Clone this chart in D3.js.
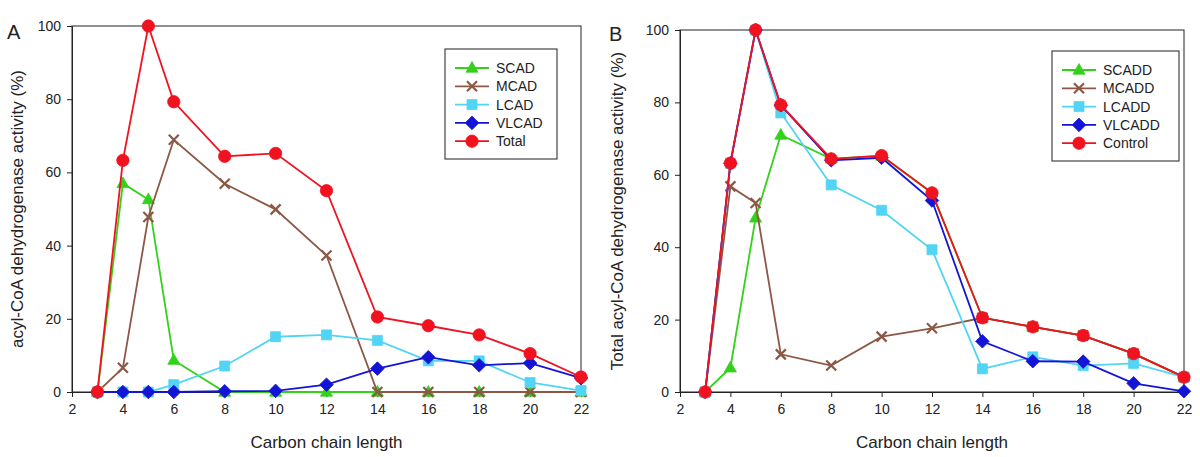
<!DOCTYPE html>
<html><head><meta charset="utf-8">
<script src="https://cdn.jsdelivr.net/npm/d3@7"></script>
<style>
html,body{margin:0;padding:0;background:#fff;}
svg{display:block;font-family:Arial,"Liberation Sans",sans-serif;}
</style></head>
<body>
<svg id="chart" width="1200" height="457"></svg>
<script>
// ---------------- data ----------------
const chainLength = [3, 4, 5, 6, 8, 10, 12, 14, 16, 18, 20, 22];
const xTicks = [2, 4, 6, 8, 10, 12, 14, 16, 18, 20, 22];
const yTicks = [0, 20, 40, 60, 80, 100];

// Panel A
const seriesNamesA = ["SCAD", "MCAD", "LCAD", "VLCAD", "Total"];
const scadA  = [0, 57.0, 52.6, 8.7, 0, 0, 0, 0, 0, 0, 0, 0];
const mcadA  = [0, 6.6, 47.8, 68.9, 56.9, 49.9, 37.3, 0, 0, 0, 0, 0];
const lcadA  = [0, 0, 0, 2.0, 7.1, 15.1, 15.6, 14.1, 8.5, 8.5, 2.6, 0.4];
const vlcadA = [0, 0, 0, 0, 0.2, 0.3, 2.0, 6.4, 9.5, 7.3, 7.9, 3.8];
const totalA = [0, 63.3, 100, 79.3, 64.4, 65.2, 55.0, 20.5, 18.1, 15.6, 10.5, 4.1];

// Panel B
const seriesNamesB = ["SCADD", "MCADD", "LCADD", "VLCADD", "Control"];
const scaddB   = [0, 6.7, 48.1, 71.0, 64.4, 65.2, 55.0, 20.5, 18.0, 15.6, 10.6, 4.1];
const mcaddB   = [0, 56.8, 52.2, 10.4, 7.3, 15.3, 17.6, 20.5, 18.0, 15.6, 10.6, 4.1];
const lcaddB   = [0, 63.2, 100, 77.1, 57.2, 50.2, 39.3, 6.4, 9.7, 7.3, 7.9, 4.1];
const vlcaddB  = [0, 63.2, 100, 79.2, 64.0, 64.7, 52.9, 14.0, 8.5, 8.4, 2.4, 0.2];
const controlB = [0, 63.2, 100, 79.3, 64.4, 65.3, 55.0, 20.5, 18.0, 15.6, 10.6, 4.1];

const panelLetters = ["A", "B"];
const yTitles = ["acyl-CoA dehydrogenase activity (%)", "Total acyl-CoA dehydrogenase activity (%)"];
const xTitle = "Carbon chain length";

// ---------------- styles ----------------
const colors = ["#33d11c", "#8c5845", "#52d4f4", "#1414d6", "#f0121e"];
const markers = ["triangle", "x", "square", "diamond", "circle"];

function markerPath(type) {
  switch (type) {
    case "triangle": return "M0,-6.5L6,4.2L-6,4.2Z";
    case "square": return "M-5,-5H5V5H-5Z";
    case "diamond": return "M0,-6.8L6.8,0L0,6.8L-6.8,0Z";
    case "circle": return d3.symbol(d3.symbolCircle, 120)();
    case "x": return "M-5,-5L5,5M-5,5L5,-5";
  }
}

const svg = d3.select("#chart");

function drawPanel(cfg) {
  const g = svg.append("g");
  const x = d3.scaleLinear().domain([2, 22]).range([cfg.left, cfg.right]);
  const y = d3.scaleLinear().domain([0, 100]).range([cfg.bottom, cfg.top]);

  // frame
  g.append("rect").attr("x", cfg.left).attr("y", cfg.top)
    .attr("width", cfg.right - cfg.left).attr("height", cfg.bottom - cfg.top)
    .attr("fill", "none").attr("stroke", "#222").attr("stroke-width", 1);

  const xAxis = g.append("g").attr("transform", `translate(0,${cfg.bottom})`)
    .call(d3.axisBottom(x).tickValues(xTicks).tickSize(5).tickPadding(7).tickFormat(d3.format("d")));
  const yAxis = g.append("g").attr("transform", `translate(${cfg.left},0)`)
    .call(d3.axisLeft(y).tickValues(yTicks).tickSize(5).tickPadding(6).tickFormat(d3.format("d")));
  [xAxis, yAxis].forEach(a => {
    a.select(".domain").attr("stroke", "#222");
    a.selectAll(".tick line").attr("stroke", "#222");
    a.selectAll("text").attr("font-size", 14).attr("fill", "#222")
      .attr("font-family", "Arial, 'Liberation Sans', sans-serif");
  });

  // titles
  g.append("text").attr("x", (cfg.left + cfg.right) / 2).attr("y", 448)
    .attr("text-anchor", "middle").attr("font-size", 17).attr("fill", "#222").text(xTitle);
  g.append("text").attr("transform", `translate(${cfg.ytx},${(cfg.top + cfg.bottom) / 2}) rotate(-90)`)
    .attr("text-anchor", "middle").attr("font-size", 17).attr("fill", "#222").text(cfg.yTitle);
  g.append("text").attr("x", cfg.letterX).attr("y", cfg.letterY)
    .attr("font-size", 20).attr("fill", "#222").text(cfg.letter);

  const line = d3.line().x((d, i) => x(chainLength[i])).y(d => y(d));

  cfg.series.forEach((vals, si) => {
    const sg = g.append("g");
    sg.append("path").datum(vals).attr("d", line)
      .attr("fill", "none").attr("stroke", colors[si]).attr("stroke-width", 1.8);
    sg.selectAll("path.m").data(vals).join("path").attr("class", "m")
      .attr("transform", (d, i) => `translate(${x(chainLength[i])},${y(d)})`)
      .attr("d", markerPath(markers[si]))
      .attr("fill", markers[si] === "x" ? "none" : colors[si])
      .attr("stroke", colors[si])
      .attr("stroke-width", markers[si] === "x" ? 2.2 : 0.8);
  });

  // legend
  const lg = g.append("g");
  lg.append("rect").attr("x", cfg.lx).attr("y", cfg.ly).attr("width", cfg.lw).attr("height", 110)
    .attr("fill", "#fff").attr("stroke", "#444").attr("stroke-width", 1.2);
  cfg.names.forEach((name, si) => {
    const yy = cfg.ly + 19 + si * 18.3;
    lg.append("line").attr("x1", cfg.lx + 10).attr("x2", cfg.lx + 44).attr("y1", yy).attr("y2", yy)
      .attr("stroke", colors[si]).attr("stroke-width", 1.8);
    lg.append("path").attr("transform", `translate(${cfg.lx + 27},${yy})`)
      .attr("d", markerPath(markers[si]))
      .attr("fill", markers[si] === "x" ? "none" : colors[si])
      .attr("stroke", colors[si]).attr("stroke-width", markers[si] === "x" ? 2.2 : 0.8);
    lg.append("text").attr("x", cfg.lx + 51).attr("y", yy + 5).attr("font-size", 14)
      .attr("fill", "#222").text(name);
  });
}

drawPanel({
  left: 72, right: 581, top: 26, bottom: 392, ytx: 23, letter: panelLetters[0], letterX: 7, letterY: 39,
  yTitle: yTitles[0], series: [scadA, mcadA, lcadA, vlcadA, totalA], names: seriesNamesA,
  lx: 445, ly: 49, lw: 112
});
drawPanel({
  left: 680, right: 1184, top: 30, bottom: 392, ytx: 623, letter: panelLetters[1], letterX: 609, letterY: 41,
  yTitle: yTitles[1], series: [scaddB, mcaddB, lcaddB, vlcaddB, controlB], names: seriesNamesB,
  lx: 1052, ly: 51, lw: 127
});
</script>
</body></html>
